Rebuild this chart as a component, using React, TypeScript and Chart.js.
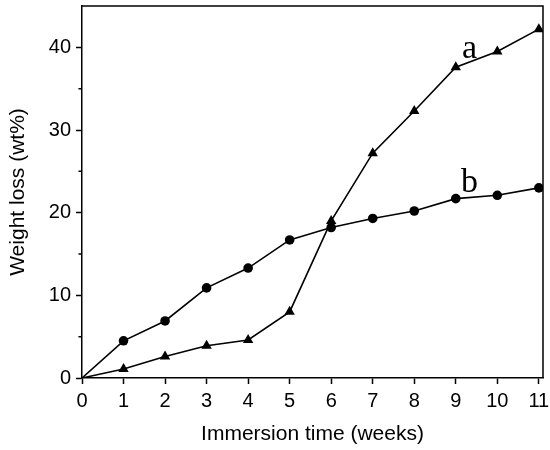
import React, { useEffect, useRef } from 'react';
import Chart from 'chart.js/auto';

// Immersion time (weeks) and weight loss (wt%)
const weeks = [0, 1, 2, 3, 4, 5, 6, 7, 8, 9, 10, 11];
const seriesA = [0, 1.1, 2.6, 3.9, 4.6, 8.0, 19.0, 27.2, 32.3, 37.6, 39.5, 42.2];
const seriesB = [0, 4.5, 6.9, 10.9, 13.3, 16.7, 18.2, 19.3, 20.2, 21.7, 22.1, 23.0];
const yMinorTicks = [5, 15, 25, 35];

// curve labels, placed in data coordinates
const curveLabels = [
  { text: 'a', x: 9.33, y: 38.75 },
  { text: 'b', x: 9.33, y: 22.45 },
];

const SANS = '"Liberation Sans", Arial, sans-serif';

const framePlugin = {
  id: 'frame',
  afterDraw(chart: any) {
    const { ctx, chartArea } = chart;
    const yScale = chart.scales.y;
    const xScale = chart.scales.x;
    ctx.save();
    ctx.strokeStyle = '#000';
    ctx.lineWidth = 1.5;
    // top and right border
    ctx.beginPath();
    ctx.moveTo(chartArea.left, chartArea.top);
    ctx.lineTo(chartArea.right, chartArea.top);
    ctx.lineTo(chartArea.right, chartArea.bottom);
    ctx.stroke();
    // minor ticks on y
    ctx.beginPath();
    yMinorTicks.forEach((v) => {
      const py = yScale.getPixelForValue(v);
      ctx.moveTo(chartArea.left, py);
      ctx.lineTo(chartArea.left - 3.5, py);
    });
    ctx.stroke();
    // curve labels
    ctx.fillStyle = '#000';
    ctx.font = '34px "Liberation Serif", "Times New Roman", serif';
    ctx.textAlign = 'center';
    ctx.textBaseline = 'alphabetic';
    curveLabels.forEach((l) => {
      ctx.fillText(l.text, xScale.getPixelForValue(l.x), yScale.getPixelForValue(l.y));
    });
    ctx.restore();
  },
};

const App: React.FC = () => {
  const canvasRef = useRef<HTMLCanvasElement>(null);

  useEffect(() => {
    if (!canvasRef.current) return;
    const context = canvasRef.current.getContext('2d');
    if (!context) return;

    const markerRadius = (r: number) => (c: any) => (c.dataIndex === 0 ? 0 : r);

    const chart = new Chart(context, {
      type: 'scatter',
      data: {
        datasets: [
          {
            label: 'a',
            data: weeks.map((w, i) => ({ x: w, y: seriesA[i] })),
            showLine: true,
            borderColor: '#000',
            backgroundColor: '#000',
            borderWidth: 1.6,
            pointStyle: 'triangle',
            pointRadius: markerRadius(6),
            pointBorderWidth: 0,
          },
          {
            label: 'b',
            data: weeks.map((w, i) => ({ x: w, y: seriesB[i] })),
            showLine: true,
            borderColor: '#000',
            backgroundColor: '#000',
            borderWidth: 1.6,
            pointStyle: 'circle',
            pointRadius: markerRadius(4.8),
            pointBorderWidth: 0,
          },
        ],
      },
      options: {
        responsive: false,
        animation: false,
        layout: { padding: { top: 6, right: 7, left: 0, bottom: 0 } },
        plugins: {
          legend: { display: false },
          tooltip: { enabled: false },
        },
        scales: {
          x: {
            type: 'linear',
            min: 0,
            max: 11.1,
            afterFit: (s: any) => {
              s.height = 72;
              s.paddingLeft = 0;
              s.paddingRight = 0;
            },
            ticks: {
              stepSize: 1,
              includeBounds: false,
              autoSkip: false,
              maxRotation: 0,
              color: '#000',
              padding: 5,
              font: { family: SANS, size: 20 },
            },
            grid: {
              drawOnChartArea: false,
              drawTicks: true,
              tickLength: 6,
              tickColor: '#000',
              tickWidth: 1.5,
            },
            border: { color: '#000', width: 1.5 },
            title: {
              display: true,
              text: 'Immersion time (weeks)',
              color: '#000',
              font: { family: SANS, size: 21 },
              padding: { top: 0, bottom: 3 },
            },
          },
          y: {
            min: 0,
            max: 45,
            afterFit: (s: any) => {
              s.width = 82;
              s.paddingTop = 0;
              s.paddingBottom = 0;
            },
            ticks: {
              stepSize: 10,
              includeBounds: false,
              color: '#000',
              padding: 5,
              font: { family: SANS, size: 20 },
            },
            grid: {
              drawOnChartArea: false,
              drawTicks: true,
              tickLength: 6,
              tickColor: '#000',
              tickWidth: 1.5,
            },
            border: { color: '#000', width: 1.5 },
            title: {
              display: true,
              text: 'Weight loss (wt%)',
              color: '#000',
              font: { family: SANS, size: 21 },
              padding: { top: 6, bottom: 0 },
            },
          },
        },
      },
      plugins: [framePlugin],
    });

    return () => {
      chart.destroy();
    };
  }, []);

  return (
    <div style={{ position: 'absolute', left: 0, top: 0, width: 550, height: 450, background: '#fff' }}>
      <canvas ref={canvasRef} width={550} height={450} />
    </div>
  );
};

export default App;
